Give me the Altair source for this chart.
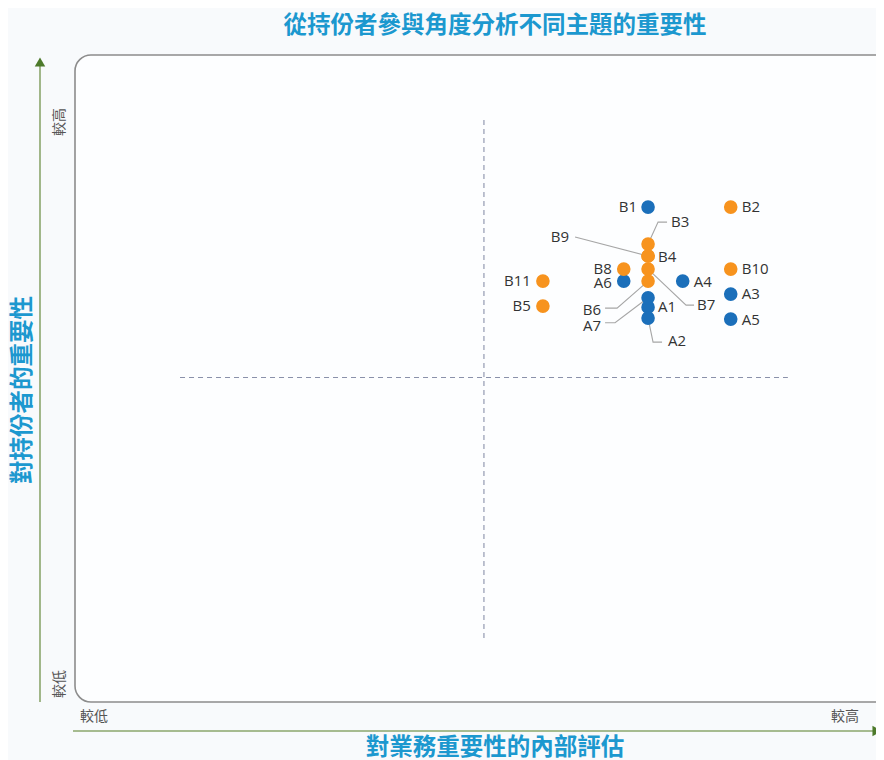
import altair as alt
import pandas as pd

# ---------------- data ----------------
names = ["A1", "A2", "A3", "A4", "A5", "A6", "A7",
         "B1", "B2", "B3", "B4", "B5", "B6", "B7", "B8", "B9", "B10", "B11"]
colour_group = ["blue"] * 8 + ["orange"] * 10
business = [7.70, 7.70, 9.06, 8.27, 9.06, 7.30, 7.70,
            7.70, 9.06, 7.70, 7.70, 5.97, 7.70, 7.70, 7.30, 7.70, 9.06, 5.97]
stakeholder = [6.35, 6.14, 6.60, 6.85, 6.12, 6.85, 6.53,
               8.27, 8.27, 7.56, 7.33, 6.37, 6.85, 7.08, 7.08, 7.33, 7.08, 6.85]

title_text = "從持份者參與角度分析不同主題的重要性"
x_title = "對業務重要性的內部評估"
y_title = "對持份者的重要性"
low_label = "較低"
high_label = "較高"

# ---------------- layout ----------------
W, H = 868, 752
X_DOM = [-2.83, 11.45]
Y_DOM = [-2.34, 12.09]
KX = W / (X_DOM[1] - X_DOM[0])
KY = H / (Y_DOM[1] - Y_DOM[0])

# label placement (pixel offsets from the point, alignment)
simple_labels = {
    "B1": (-11, 0, "right"), "B2": (11, 0, "left"), "B4": (10, 1, "left"),
    "B8": (-12, 0, "right"), "A6": (-12, 2, "right"), "A4": (11, 1, "left"),
    "B10": (11, 0, "left"), "A3": (11, 0, "left"), "A5": (11, 1, "left"),
    "B11": (-12, 0, "right"), "B5": (-12, 0, "right"), "A1": (10, 0, "left"),
}
# leader paths (pixel offsets) and label offset
leaders = {
    "B3": ([(0, 0), (10, -22), (19, -22)], (23, -22, "left")),
    "B9": ([(0, 0), (-73, -19)], (-79, -19, "right")),
    "B7": ([(0, 0), (38, 36), (46, 36)], (49, 36, "left")),
    "B6": ([(0, 0), (-31, 27), (-43, 27)], (-47, 29, "right")),
    "A7": ([(0, 0), (-33, 25), (-43, 25)], (-47, 28, "right")),
    "A2": ([(0, 0), (5, 24), (14, 24)], (20, 23, "left")),
}

pts = pd.DataFrame({"name": names, "group": colour_group, "x": business, "y": stakeholder})
lookup = pts.set_index("name")

lab_rows = []
for n, (dx, dy, al) in simple_labels.items():
    lab_rows.append({"name": n, "x": lookup.loc[n, "x"] + dx / KX,
                     "y": lookup.loc[n, "y"] - dy / KY, "align": al})
line_rows = []
for n, (path, (dx, dy, al)) in leaders.items():
    for i, (px, py) in enumerate(path):
        line_rows.append({"name": n, "i": i, "x": lookup.loc[n, "x"] + px / KX,
                          "y": lookup.loc[n, "y"] - py / KY})
    lab_rows.append({"name": n, "x": lookup.loc[n, "x"] + dx / KX,
                     "y": lookup.loc[n, "y"] - dy / KY, "align": al})
labs = pd.DataFrame(lab_rows)
lines = pd.DataFrame(line_rows)

xs = alt.Scale(domain=X_DOM, nice=False, zero=False)
ys = alt.Scale(domain=Y_DOM, nice=False, zero=False)
X = lambda f="x": alt.X(f, type="quantitative", scale=xs, axis=None)
Y = lambda f="y": alt.Y(f, type="quantitative", scale=ys, axis=None)

one = pd.DataFrame({"d": [0]})

frame = alt.Chart(one).mark_rect(
    cornerRadius=16, fill="#fdfeff", stroke="#8c8c8c", strokeWidth=1.6
).encode(x=alt.value(67), x2=alt.value(895), y=alt.value(47), y2=alt.value(694))

quad = pd.DataFrame({"x": [5, 0], "x2": [5, 10], "y": [0, 5], "y2": [10, 5]})
dashes = alt.Chart(quad).mark_rule(
    color="#8a91aa", strokeDash=[5, 4], strokeWidth=1.1
).encode(x=X(), x2="x2", y=Y(), y2="y2")

green_line = "#8ba66c"
green_head = "#4d7a2b"
yaxis_line = alt.Chart(one).mark_rule(color=green_line, strokeWidth=1.6).encode(
    x=alt.value(32), y=alt.value(56), y2=alt.value(694))
xaxis_line = alt.Chart(one).mark_rule(color=green_line, strokeWidth=1.6).encode(
    x=alt.value(65), x2=alt.value(866), y=alt.value(723))
yhead = alt.Chart(one).mark_point(shape="triangle-up", filled=True, size=110,
                                  color=green_head, opacity=1).encode(
    x=alt.value(32), y=alt.value(54))
xhead = alt.Chart(one).mark_point(shape="triangle-right", filled=True, size=110,
                                  color=green_head, opacity=1).encode(
    x=alt.value(869), y=alt.value(723))

small = dict(font="Noto Sans CJK TC", fontSize=14, color="#555555")
lowx = alt.Chart(one).mark_text(align="left", baseline="middle", **small).encode(
    x=alt.value(72), y=alt.value(709), text=alt.value(low_label))
highx = alt.Chart(one).mark_text(align="right", baseline="middle", **small).encode(
    x=alt.value(851), y=alt.value(709), text=alt.value(high_label))
lowy = alt.Chart(one).mark_text(align="left", baseline="middle", angle=270, **small).encode(
    x=alt.value(52), y=alt.value(690), text=alt.value(low_label))
highy = alt.Chart(one).mark_text(align="center", baseline="middle", angle=270, **small).encode(
    x=alt.value(52), y=alt.value(114), text=alt.value(high_label))

tcol = "#1c98cf"
big = dict(font="Noto Sans CJK TC", fontWeight="bold", color=tcol, fontSize=23.5)
title = alt.Chart(one).mark_text(align="center", baseline="middle", **big).encode(
    x=alt.value(487), y=alt.value(18), text=alt.value(title_text))
xt = alt.Chart(one).mark_text(align="center", baseline="middle", **big).encode(
    x=alt.value(487), y=alt.value(740), text=alt.value(x_title))
yt = alt.Chart(one).mark_text(align="center", baseline="middle", angle=270, **big).encode(
    x=alt.value(15), y=alt.value(382), text=alt.value(y_title))

leader_lines = alt.Chart(lines).mark_line(color="#a6a6a6", strokeWidth=1.1).encode(
    x=X(), y=Y(), detail="name:N", order="i:Q")

dots = alt.Chart(pts).mark_circle(size=185, opacity=1).encode(
    x=X(), y=Y(),
    color=alt.Color("group:N", scale=alt.Scale(domain=["blue", "orange"],
                                               range=["#1b6fba", "#f7931e"]),
                    legend=None))

lab_font = dict(font="Open Sans", fontSize=15, color="#333333", baseline="middle")
labs_left = alt.Chart(labs[labs["align"] == "left"]).mark_text(align="left", **lab_font).encode(
    x=X(), y=Y(), text="name:N")
labs_right = alt.Chart(labs[labs["align"] == "right"]).mark_text(align="right", **lab_font).encode(
    x=X(), y=Y(), text="name:N")

chart = alt.layer(
    frame, dashes, yaxis_line, xaxis_line, yhead, xhead,
    lowx, highx, lowy, highy, title, xt, yt,
    leader_lines, dots, labs_left, labs_right
).properties(
    width=W, height=H,
    autosize=alt.AutoSizeParams(type="none"),
    padding=0,
    background="#f8fafc",
).configure_view(stroke=None)

chart.save("out.html", embed_options={"renderer": "svg", "actions": False})
